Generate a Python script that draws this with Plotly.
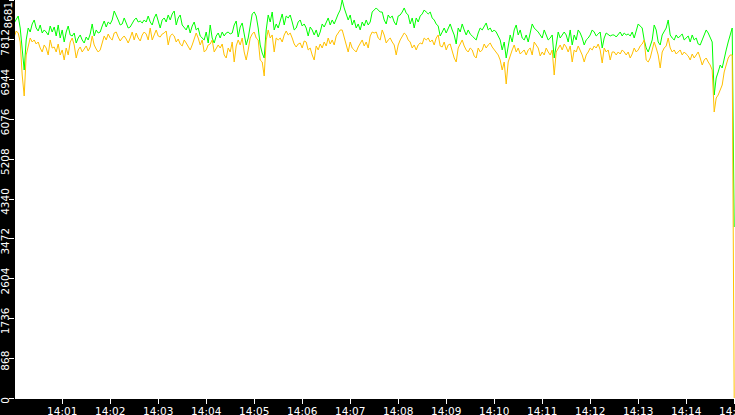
"""
Two throughput series over a 15-minute window, plotted with Plotly.
"""
import pandas as pd
import plotly.graph_objects as go

# sample grid: one reading every 2.5 s starting at 14:00:00
start_time = "2024-01-01 14:00:00"
step_seconds = 2.5

green_values = [
    8180, 8245, 8332, 8070, 7634, 7154, 7809, 8070, 7983, 8158, 8245, 8070, 8005, 8136, 7961, 8027, 7983, 7918, 8114, 7983,
    8092, 7896, 8136, 7852, 8027, 7765, 7983, 8114, 7918, 7896, 7961, 7743, 7852, 7918, 7809, 7743, 7874, 7809, 7939, 8158,
    7896, 8027, 7961, 7983, 8114, 8223, 8092, 8201, 8158, 8245, 8441, 8354, 8245, 8136, 8158, 8289, 8158, 8070, 8092, 8180,
    8245, 8289, 8201, 8223, 8180, 8245, 8201, 8332, 8201, 8136, 8289, 8376, 8201, 8070, 8245, 8289, 8201, 8354, 8245, 8376,
    8441, 8136, 8289, 8354, 8136, 8070, 8027, 8136, 7961, 8114, 8201, 8027, 8070, 7896, 7852, 7809, 7983, 7743, 8136, 7852,
    7743, 7896, 7961, 7852, 7983, 7896, 7961, 7983, 7939, 7961, 8136, 8223, 7874, 8092, 8180, 7918, 7700, 7852, 8158, 8376,
    8419, 8332, 8070, 7700, 7525, 7416, 8027, 8354, 8201, 8419, 8027, 8158, 8070, 8245, 8376, 8136, 8332, 8289, 8354, 8201,
    8027, 8070, 8201, 8245, 8114, 8158, 8070, 7896, 8092, 8027, 7918, 8027, 7874, 7983, 8158, 8092, 8201, 8289, 8136, 8245,
    8158, 8289, 8376, 8463, 8681, 8507, 8354, 8245, 8354, 8136, 8245, 8070, 8158, 8027, 8201, 8114, 8245, 8136, 8201, 8419,
    8463, 8507, 8463, 8419, 8419, 8245, 8158, 8354, 8289, 8332, 8201, 8136, 8332, 8354, 8419, 8507, 8398, 8354, 8158, 8289,
    8070, 8289, 8201, 8332, 8376, 8463, 8419, 8376, 8419, 8289, 8245, 8158, 8114, 7896, 7983, 8070, 7961, 8070, 8158, 8027,
    7918, 7721, 8070, 7983, 8158, 8027, 7918, 8027, 7939, 7896, 7852, 7809, 7961, 8070, 8027, 8114, 8180, 8027, 8070, 7983,
    8027, 7983, 7896, 7809, 7591, 7765, 7416, 7700, 7918, 7765, 8027, 8136, 7918, 8027, 7852, 7809, 7918, 7765, 7983, 8158,
    8070, 8027, 7983, 7918, 7852, 8027, 7896, 7809, 7852, 7918, 7416, 7765, 7983, 7852, 7918, 7983, 7918, 7765, 8027, 7700,
    7918, 7809, 8027, 7961, 7852, 7700, 7809, 7852, 7918, 8027, 7983, 7896, 7939, 7983, 7634, 7852, 7961, 7918, 7896, 7918,
    7918, 7874, 7939, 7983, 7896, 7961, 7918, 7939, 7896, 7983, 7852, 8027, 8158, 8114, 8070, 7809, 7634, 7547, 7678, 7809,
    8136, 8027, 7765, 7700, 7918, 7983, 8070, 8245, 7918, 7852, 7809, 7918, 7852, 7896, 7939, 7809, 7852, 7896, 7765, 7918,
    7809, 7852, 7721, 7700, 7809, 7918, 8027, 7961, 7852, 7765, 6609, 6980, 7111, 7263, 7198, 7416, 7591, 7765, 7918, 8070,
    3730,
]

orange_values = [
    7874, 8005, 7961, 7765, 7045, 6587, 7482, 7700, 7852, 7765, 7809, 7721, 7765, 7634, 7547, 7700, 7634, 7482, 7809, 7634,
    7656, 7547, 7721, 7482, 7591, 7372, 7634, 7482, 7765, 7852, 7700, 7416, 7591, 7656, 7547, 7612, 7678, 7569, 7656, 7896,
    7700, 7612, 7547, 7591, 7765, 7896, 7809, 7939, 7852, 7809, 7961, 7983, 7874, 7787, 7852, 7896, 7830, 7743, 7852, 7983,
    7809, 7961, 7852, 7787, 7918, 7983, 7939, 7809, 8070, 7809, 7918, 8027, 7896, 7874, 7939, 7961, 8005, 7700, 7896, 7939,
    7896, 7765, 7830, 7721, 7678, 7809, 7743, 7678, 7591, 7700, 7809, 7961, 7852, 7700, 7809, 7547, 7591, 7700, 7721, 7809,
    7547, 7634, 7700, 7634, 7721, 7482, 7416, 7634, 7547, 7765, 7329, 7678, 7809, 7700, 7852, 7547, 7372, 7591, 7852, 7939,
    7983, 7852, 7809, 7372, 7329, 7023, 7809, 8027, 7852, 7918, 7547, 7852, 7809, 7852, 7765, 7918, 8005, 7918, 7961, 7852,
    7721, 7656, 7721, 7743, 7634, 7787, 7765, 7591, 7634, 7482, 7372, 7678, 7591, 7721, 7634, 7765, 7678, 7852, 7721, 7809,
    7700, 7896, 7961, 8027, 8027, 7852, 7700, 7547, 7765, 7634, 7591, 7547, 7656, 7743, 7809, 7678, 7765, 7634, 7896, 7983,
    7961, 7983, 7852, 7809, 8027, 7918, 7743, 7809, 7852, 7765, 7700, 7482, 7700, 7809, 7874, 7961, 7918, 7809, 7765, 7634,
    7700, 7591, 7700, 7743, 7721, 7852, 7809, 7852, 7765, 7809, 7700, 7852, 7918, 7678, 7656, 7765, 7591, 7700, 7721, 7547,
    7416, 7329, 7634, 7721, 7809, 7678, 7591, 7547, 7634, 7591, 7460, 7416, 7634, 7547, 7591, 7721, 7634, 7700, 7743, 7656,
    7591, 7547, 7482, 7372, 7154, 7329, 6849, 7329, 7482, 7591, 7700, 7547, 7634, 7503, 7547, 7591, 7482, 7591, 7634, 7482,
    7765, 7700, 7634, 7460, 7547, 7482, 7634, 7547, 7482, 7591, 7045, 7547, 7634, 7700, 7591, 7721, 7656, 7547, 7678, 7329,
    7591, 7547, 7678, 7591, 7482, 7329, 7482, 7547, 7634, 7591, 7678, 7634, 7721, 7591, 7307, 7634, 7547, 7591, 7372, 7547,
    7547, 7482, 7547, 7503, 7591, 7547, 7482, 7547, 7416, 7503, 7634, 7547, 7591, 7678, 7721, 7809, 7372, 7329, 7416, 7591,
    7765, 7634, 7482, 7198, 7547, 7634, 7678, 7852, 7634, 7547, 7591, 7503, 7547, 7591, 7482, 7547, 7503, 7460, 7372, 7503,
    7416, 7482, 7547, 7416, 7263, 7372, 7416, 7329, 7263, 7154, 6238, 6543, 6609, 6718, 6827, 7111, 7263, 7416, 7482, 7482,
    0,
]

y_tick_labels = ["0", "868", "1736", "2604", "3472", "4340", "5208", "6076", "6944", "7812", "8681"]
x_range = ["2024-01-01 14:00:01", "2024-01-01 14:15:01"]

times = pd.date_range(start_time, periods=len(green_values), freq=pd.Timedelta(seconds=step_seconds))

fig = go.Figure()
fig.add_trace(go.Scatter(x=times, y=green_values, mode="lines",
                         line=dict(color="#00ff00", width=1), name="green"))
fig.add_trace(go.Scatter(x=times, y=orange_values, mode="lines",
                         line=dict(color="#ffc000", width=1), name="orange"))

tick_font = dict(family="DejaVu Sans", size=10.5, color="white")
y_top = int(y_tick_labels[-1])

fig.update_xaxes(
    range=x_range, tickformat="%H:%M", dtick=60000,
    showgrid=False, zeroline=False, automargin=False,
    showline=True, linecolor="white", linewidth=1,
    ticks="outside", ticklen=5, tickcolor="white", tickfont=tick_font,
    ticklabelstandoff=-2, ticklabeloverflow="allow",
)
fig.update_yaxes(
    range=[0, y_top],
    tickvals=[int(t) for t in y_tick_labels],
    ticktext=y_tick_labels[:-1] + [""],
    tickangle=-90, ticklabelshift=4, ticklabelstandoff=-4,
    showgrid=False, zeroline=False, showline=False, automargin=False,
    ticks="outside", ticklen=5, tickcolor="white", tickfont=tick_font,
)

# top label is kept inside the page, below its tick
fig.add_annotation(
    text=y_tick_labels[-1], xref="paper", yref="paper", x=0, y=1,
    xshift=-8, xanchor="center", yanchor="top", textangle=-90,
    showarrow=False, font=tick_font,
)

fig.update_layout(
    width=735, height=415,
    margin=dict(l=15, r=0, t=0, b=17),
    paper_bgcolor="black", plot_bgcolor="white",
    showlegend=False, hovermode=False,
)

# drop the default page margin so the chart sits at the window corner
fig.write_html("out.html", config={"displayModeBar": False},
               post_script="document.body.style.margin = '0';")
